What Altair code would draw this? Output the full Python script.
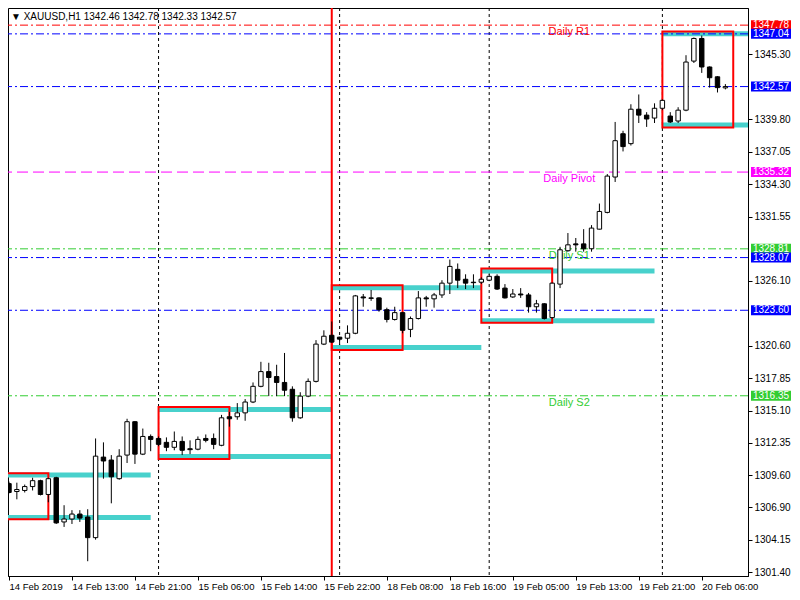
import altair as alt
import pandas as pd

# ---------------- data ----------------
opens = [1308.90, 1308.23, 1308.32, 1308.65, 1309.15, 1307.98, 1309.40, 1305.65, 1305.90, 1306.32,
         1306.07, 1304.32, 1311.15, 1310.90, 1309.32, 1311.32, 1314.15, 1311.40, 1312.90, 1312.73,
         1312.40, 1311.98, 1312.48, 1311.86, 1311.82, 1312.73, 1312.73, 1312.15, 1314.57, 1314.57,
         1314.90, 1315.82, 1317.15, 1318.40, 1317.98, 1317.48, 1316.90, 1314.48, 1316.32, 1317.57,
         1320.73, 1321.48, 1321.32, 1321.23, 1321.65, 1324.73, 1324.65, 1324.65, 1323.65, 1322.82,
         1323.40, 1321.98, 1322.90, 1324.65, 1324.57, 1324.90, 1325.90, 1327.07, 1326.23, 1325.98,
         1325.98, 1326.15, 1326.48, 1325.48, 1324.73, 1324.98, 1324.90, 1323.90, 1324.15, 1322.98,
         1325.82, 1328.65, 1329.23, 1329.23, 1328.82, 1330.48, 1331.90, 1334.90, 1338.57, 1337.73,
         1340.65, 1340.15, 1339.90, 1340.73, 1340.07, 1339.65, 1340.57, 1344.73, 1346.65, 1344.23,
         1343.40, 1342.46]
highs = [1309.07, 1308.98, 1308.82, 1309.40, 1309.23, 1309.40, 1309.48, 1307.07, 1306.65, 1306.65,
         1306.73, 1312.73, 1312.40, 1311.32, 1311.82, 1314.40, 1314.20, 1313.57, 1313.07, 1312.90,
         1312.82, 1313.32, 1312.90, 1312.57, 1312.90, 1313.07, 1313.15, 1314.73, 1314.98, 1315.73,
         1316.07, 1317.48, 1319.23, 1319.15, 1318.98, 1319.98, 1317.15, 1316.65, 1317.82, 1321.07,
         1321.90, 1322.65, 1321.35, 1322.32, 1324.90, 1324.98, 1325.32, 1324.70, 1323.82, 1323.90,
         1323.45, 1323.07, 1325.23, 1324.82, 1325.07, 1326.15, 1327.90, 1327.57, 1326.65, 1326.65,
         1326.40, 1326.65, 1326.65, 1325.82, 1325.40, 1325.48, 1325.07, 1324.48, 1324.20, 1325.95,
         1328.98, 1330.15, 1329.73, 1330.48, 1330.82, 1332.65, 1335.15, 1339.57, 1338.82, 1341.07,
         1341.90, 1340.40, 1341.15, 1341.48, 1340.40, 1340.82, 1345.23, 1346.73, 1346.90, 1344.28,
         1343.45, 1342.78]
lows = [1308.07, 1307.57, 1308.15, 1308.32, 1307.90, 1307.32, 1305.48, 1305.23, 1305.48, 1305.65,
        1302.32, 1304.15, 1309.32, 1307.23, 1309.23, 1310.65, 1310.57, 1311.32, 1311.65, 1312.07,
        1311.65, 1311.73, 1311.32, 1311.40, 1311.73, 1312.40, 1311.82, 1312.07, 1313.73, 1314.32,
        1314.23, 1315.73, 1317.07, 1316.32, 1316.32, 1316.32, 1314.15, 1314.40, 1316.23, 1317.48,
        1320.65, 1320.82, 1320.65, 1320.82, 1321.57, 1323.90, 1324.40, 1323.48, 1322.57, 1322.73,
        1321.65, 1321.32, 1322.82, 1323.90, 1323.82, 1324.65, 1324.98, 1325.48, 1325.40, 1325.48,
        1325.82, 1326.07, 1325.32, 1324.60, 1324.65, 1324.65, 1323.40, 1323.40, 1322.82, 1322.90,
        1325.48, 1328.57, 1328.57, 1328.57, 1328.57, 1330.45, 1331.82, 1334.48, 1337.07, 1337.57,
        1339.48, 1339.15, 1339.48, 1340.57, 1339.48, 1339.48, 1340.48, 1344.57, 1343.73, 1342.48,
        1342.07, 1342.33]
closes = [1308.15, 1308.40, 1308.65, 1309.15, 1307.98, 1309.32, 1305.57, 1305.90, 1306.32, 1305.98,
          1304.32, 1311.23, 1310.82, 1309.48, 1311.23, 1314.15, 1311.40, 1312.90, 1312.65, 1312.23,
          1311.98, 1312.48, 1311.73, 1311.78, 1312.65, 1312.57, 1312.23, 1314.48, 1314.40, 1314.90,
          1315.82, 1317.15, 1318.40, 1317.90, 1317.48, 1316.82, 1314.48, 1316.32, 1317.57, 1320.73,
          1321.40, 1320.90, 1321.15, 1321.65, 1324.82, 1324.65, 1324.61, 1323.65, 1322.82, 1323.40,
          1321.90, 1322.90, 1324.65, 1324.57, 1324.90, 1325.90, 1327.32, 1326.15, 1325.90, 1325.94,
          1326.23, 1326.48, 1325.40, 1324.65, 1324.98, 1324.90, 1323.90, 1324.15, 1322.90, 1325.90,
          1328.73, 1329.15, 1329.15, 1328.82, 1330.57, 1331.98, 1334.98, 1337.98, 1337.48, 1340.65,
          1340.15, 1339.82, 1340.73, 1341.40, 1339.57, 1340.57, 1344.65, 1346.65, 1344.23, 1343.32,
          1342.48, 1342.57]

x_tick_bars = [0, 8, 16, 24, 32, 40, 48, 56, 64, 72, 80, 88]
x_tick_labels = ["14 Feb 2019", "14 Feb 13:00", "14 Feb 21:00", "15 Feb 06:00", "15 Feb 14:00",
                 "15 Feb 22:00", "18 Feb 08:00", "18 Feb 16:00", "19 Feb 05:00", "19 Feb 13:00",
                 "19 Feb 21:00", "20 Feb 06:00"]
y_tick_values = [1301.40, 1304.15, 1306.90, 1309.60, 1312.35, 1315.10, 1317.85, 1320.60,
                 1326.10, 1331.55, 1334.30, 1337.05, 1339.80, 1345.30]

grid_bars = [19, 42, 61, 83]
week_sep_bars = [41]

level_prices = [1347.78, 1347.04, 1342.57, 1335.32, 1328.81, 1328.07, 1323.60, 1316.35]
level_colors = ["#ff0000", "#0000ff", "#0000ff", "#ff00ff", "#32cd32", "#0000ff", "#0000ff", "#32cd32"]
level_dashed = [False, False, False, True, False, False, False, False]

pivot_names = ["Daily R1", "Daily Pivot", "Daily S1", "Daily S2"]
pivot_prices = [1347.78, 1335.32, 1328.81, 1316.35]
pivot_colors = ["#ff0000", "#ff00ff", "#32cd32", "#32cd32"]

band_start = [-4, 19, 41, 60, 83]
band_end = [18, 41, 60, 82, 105]
band_high = [1309.63, 1315.19, 1325.52, 1326.94, 1347.04]
band_low = [1306.03, 1311.21, 1320.44, 1322.71, 1339.32]

box_start = [-4, 19, 41, 60, 83]
box_end = [5, 28, 50, 69, 92]
box_high = [1309.79, 1315.40, 1325.73, 1327.14, 1347.23]
box_low = [1305.88, 1310.98, 1320.23, 1322.54, 1339.09]

title_text = "\u25bc XAUUSD,H1  1342.46 1342.78 1342.33 1342.57"

# ---------------- chart ----------------
W, H = 740, 568
FONT = "Liberation Sans"
X_DOM = [-0.125, 93.875]
Y_DOM = [1301.067, 1349.233]
px_per_price = H / (Y_DOM[1] - Y_DOM[0])
half_box = 5.0 / px_per_price

xs = alt.Scale(domain=X_DOM, nice=False, zero=False)
ys = alt.Scale(domain=Y_DOM, nice=False, zero=False)

candles = pd.DataFrame({"bar": list(range(len(opens))), "open": opens, "high": highs,
                        "low": lows, "close": closes})

label_expr = "[" + ",".join("'%s'" % s for s in x_tick_labels) + "][round(datum.value / 8)]"

x_axis = alt.Axis(values=x_tick_bars, labelExpr=label_expr, title=None, grid=False,
                  labelAlign="left", labelAngle=0, tickSize=4, labelPadding=1,
                  labelFont=FONT, labelFontSize=9.5, labelColor="black", tickColor="black",
                  domainColor="black", labelOverlap=False, labelFlush=False, labelBound=False,
                  zindex=0)
y_axis = alt.Axis(values=y_tick_values, format=".2f", title=None, grid=False, orient="right",
                  tickSize=4, labelPadding=2, labelFont=FONT, labelFontSize=10,
                  labelColor="black", tickColor="black", domainColor="black",
                  labelOverlap=False, labelFlush=False, labelBound=False, zindex=0)


def X(field):
    return alt.X(field, type="quantitative", scale=xs, axis=x_axis)


def Y(field):
    return alt.Y(field, type="quantitative", scale=ys, axis=y_axis)


grid = alt.Chart(pd.DataFrame({"bar": grid_bars})).mark_rule(
    color="black", strokeWidth=1, strokeDash=[3, 3]).encode(x=X("bar"))

levels = pd.DataFrame({"price": level_prices, "color": level_colors, "dashed": level_dashed})
level_dd = alt.Chart(levels).transform_filter("!datum.dashed").mark_rule(
    strokeWidth=1, strokeDash=[8, 3, 2, 3]).encode(
    y=Y("price"), color=alt.Color("color:N", scale=None))
level_d = alt.Chart(levels).transform_filter("datum.dashed").mark_rule(
    strokeWidth=1, strokeDash=[11, 5]).encode(
    y=Y("price"), color=alt.Color("color:N", scale=None))

bands = pd.DataFrame({"s": band_start, "e": band_end, "hi": band_high, "lo": band_low})
band_layer = alt.Chart(bands).transform_fold(["hi", "lo"], as_=["k", "price"]).mark_rule(
    color="#48d1cc", strokeWidth=5, clip=True).encode(x=X("s"), x2="e", y=Y("price"))

boxes = pd.DataFrame({"s": box_start, "e": box_end, "hi": box_high, "lo": box_low})
box_layer = alt.Chart(boxes).mark_rect(
    fill=None, fillOpacity=0, stroke="#ff0000", strokeWidth=2, clip=True).encode(
    x=X("s"), x2="e", y=Y("hi"), y2="lo")

week_layer = alt.Chart(pd.DataFrame({"bar": week_sep_bars})).mark_rule(
    color="#ff0000", strokeWidth=2).encode(x=X("bar"))

pivots = pd.DataFrame({"name": pivot_names, "price": pivot_prices, "color": pivot_colors})
pivot_text = alt.Chart(pivots).mark_text(
    font=FONT, fontSize=11, align="center", baseline="middle", dy=7).encode(
    x=alt.value(71.3 * W / (X_DOM[1] - X_DOM[0])), y=Y("price"), text="name:N",
    color=alt.Color("color:N", scale=None))

wicks = alt.Chart(candles).mark_rule(color="black", strokeWidth=1).encode(
    x=X("bar"), y=Y("low"), y2="high")
bodies = alt.Chart(candles).transform_calculate(
    x1="datum.bar - 0.28", x2="datum.bar + 0.28",
    fillc="datum.close >= datum.open ? 'white' : 'black'").mark_rect(
    stroke="black", strokeWidth=1).encode(
    x=X("x1"), x2="x2:Q", y=Y("open"), y2="close",
    fill=alt.Fill("fillc:N", scale=None))

lab = pd.DataFrame({"price": level_prices, "color": level_colors})
lab_box = alt.Chart(lab).transform_calculate(
    p1="datum.price - %f" % half_box, p2="datum.price + %f" % half_box).mark_rect().encode(
    x=alt.value(W + 3), x2=alt.value(W + 43), y=Y("p1"), y2="p2:Q",
    fill=alt.Color("color:N", scale=None))
lab_text = alt.Chart(lab).mark_text(
    font=FONT, fontSize=10, color="white", align="center", baseline="middle").encode(
    x=alt.value(W + 23), y=Y("price"), text=alt.Text("price:Q", format=".2f"))

title_layer = alt.Chart(pd.DataFrame({"t": [title_text]})).mark_text(
    font=FONT, fontSize=10, color="black", align="left", baseline="middle").encode(
    x=alt.value(3), y=alt.value(9), text="t:N")

chart = alt.layer(
    grid, band_layer, level_dd, level_d, box_layer, week_layer, pivot_text,
    wicks, bodies, lab_box, lab_text, title_layer
).properties(
    width=W, height=H,
    padding={"left": 0, "top": 0, "right": 44, "bottom": 16},
    autosize=alt.AutoSizeParams(type="none"),
    background="white",
).configure_view(stroke="black", strokeWidth=1)

chart.save("out.html", embed_options={"renderer": "svg", "actions": False})
